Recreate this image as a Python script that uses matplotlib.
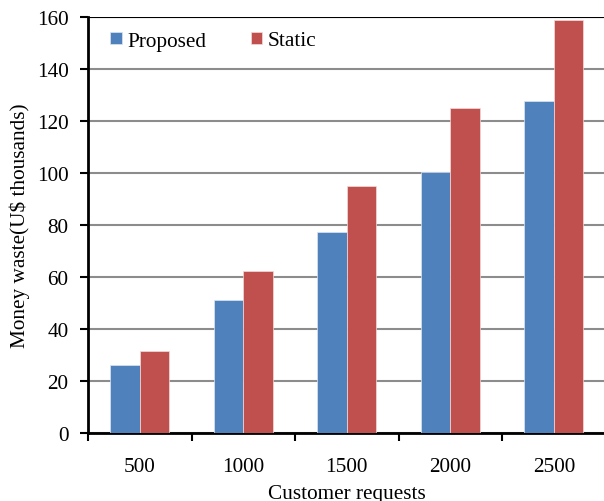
import matplotlib.pyplot as plt
import numpy as np

plt.rcParams['font.family'] = ['Liberation Serif', 'DejaVu Serif']

requests = ['500', '1000', '1500', '2000', '2500']
proposed = [26.2, 51.2, 77.5, 100.5, 127.8]
static = [31.5, 62.3, 95.1, 124.9, 158.8]

fs = 15.3
fig = plt.figure(figsize=(6.04, 5.02), dpi=100)
ax = fig.add_axes([88 / 604, 1 - 434 / 502, 517.5 / 604, 416 / 502])

x = np.arange(len(requests))
w = 0.283
ax.bar(x - w / 2, proposed, w, color='#4F81BD', edgecolor='#DCE6F2', linewidth=0.5,
       label='Proposed', zorder=3)
ax.bar(x + w / 2, static, w, color='#C0504D', edgecolor='#F2DCDB', linewidth=0.5,
       label='Static', zorder=3)

ax.set_xlim(-0.5, len(requests) - 0.5)
ax.set_ylim(0, 160)
ax.set_yticks(np.arange(0, 161, 20))
ax.yaxis.grid(True, color='#8C8C8C', linewidth=1.5, zorder=0)
ax.axhline(160, color='black', linewidth=1.5, zorder=4)

ax.set_xticks(x)
ax.set_xticklabels(requests)
ax.set_xticks(np.arange(-0.5, len(requests)), minor=True)
ax.tick_params(axis='x', which='major', length=0, pad=17, labelsize=fs)
ax.tick_params(axis='x', which='minor', length=6, width=1.5, direction='out')
ax.tick_params(axis='y', length=6, width=1.5, direction='out', labelsize=fs, pad=8)

for s in ['top', 'right']:
    ax.spines[s].set_visible(False)
for s in ['left', 'bottom']:
    ax.spines[s].set_linewidth(2)

ax.set_xlabel('Customer requests', fontsize=fs, labelpad=6)
ax.set_ylabel('Money waste(U$ thousands)', fontsize=fs, labelpad=5)

ax.legend(loc='center left', ncol=2, frameon=False, fontsize=fs,
          handlelength=0.55, handleheight=0.55, handletextpad=0.25,
          columnspacing=2.1, borderpad=0, borderaxespad=0,
          bbox_to_anchor=(110 / 604, 1 - 42 / 502), bbox_transform=fig.transFigure)

fig.savefig('out.png', dpi=100)
